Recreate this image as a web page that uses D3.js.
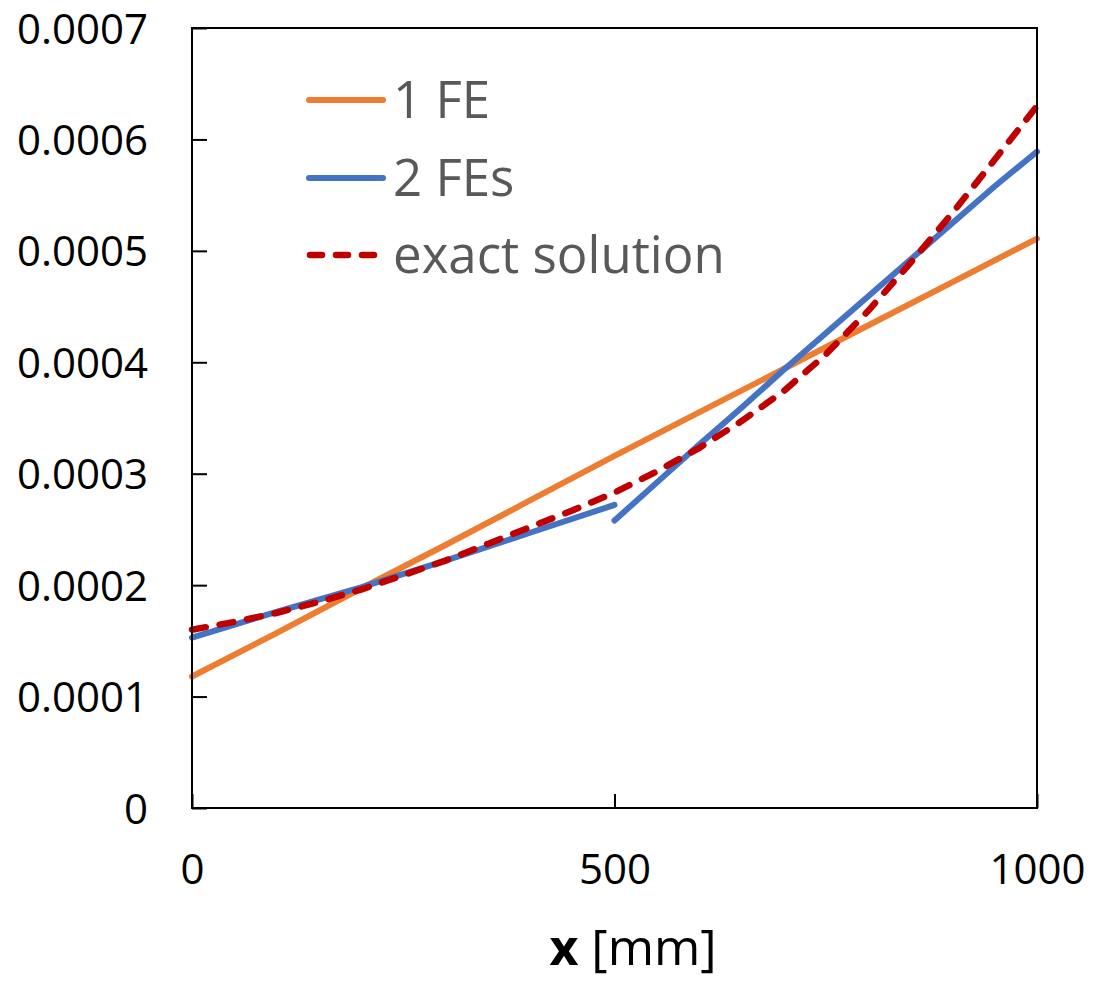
<!DOCTYPE html>
<head>
  <meta charset="utf-8">
  <script src="https://d3js.org/d3.v7.min.js"></script>
  <style>
    body { margin:0; background:#fff; }
    text { font-family: "Open Sans", sans-serif; }
    .tick-label { font-size: 42px; fill: #000; }
    .legend-label { font-size: 51px; fill: #595959; }
  </style>
</head>

<body>
  <script>
    var width = 1093, height = 982;
    var margin = { top: 28, right: 56, bottom: 174, left: 192 };
    var w = width - margin.left - margin.right;
    var h = height - margin.top - margin.bottom;

    // x positions [mm]
    var xOneFE = [0, 100, 200, 300, 400, 500, 600, 700, 800, 900, 1000];
    var oneFE = [0.000118, 0.000157, 0.000197, 0.000236, 0.000276, 0.000316, 0.000355, 0.000394, 0.000433, 0.000472, 0.000511];

    var xTwoFEsA = [0, 100, 200, 300, 400, 500];
    var twoFEsA = [0.000153, 0.000176, 0.000198, 0.000222, 0.000247, 0.000272];
    var xTwoFEsB = [500, 550, 600, 650, 700, 750, 800, 850, 900, 950, 1000];
    var twoFEsB = [0.000258, 0.000292, 0.000326, 0.000359, 0.000393, 0.000426, 0.000459, 0.000492, 0.000525, 0.000558, 0.000589];

    var xExact = [0, 50, 100, 150, 200, 250, 300, 350, 400, 450, 500, 550, 600, 650, 700, 750, 800, 850, 900, 950, 1000];
    var exact = [0.000160, 0.000167, 0.000175, 0.000185, 0.000196, 0.000209, 0.000222, 0.000237, 0.000252, 0.000267, 0.000283,
                 0.000302, 0.000323, 0.000347, 0.000374, 0.000407, 0.000446, 0.000489, 0.000534, 0.000582, 0.000630];

    var xTicks = [0, 500, 1000];
    var yTicks = [0, 0.0001, 0.0002, 0.0003, 0.0004, 0.0005, 0.0006, 0.0007];

    var legendNames = ["1 FE", "2 FEs", "exact solution"];
    var colors = ["#ED7D31", "#4472C4", "#C00000"];

    var svg = d3.select("body").append("svg")
      .attr("width", width)
      .attr("height", height);
    var g = svg.append("g")
      .attr("transform", "translate(" + margin.left + "," + margin.top + ")");

    var xScale = d3.scaleLinear().domain([0, 1000]).range([0, w]);
    var yScale = d3.scaleLinear().domain([0, 0.0007]).range([h, 0]);

    function pts(xs, ys) {
      return xs.map(function(x, i) { return [x, ys[i]]; });
    }
    var line = d3.line()
      .x(function(d) { return xScale(d[0]); })
      .y(function(d) { return yScale(d[1]); });

    // lines
    g.append("path").attr("d", line(pts(xOneFE, oneFE)))
      .attr("fill", "none").attr("stroke", colors[0]).attr("stroke-width", 6).attr("stroke-linecap", "round");
    g.append("path").attr("d", line(pts(xTwoFEsA, twoFEsA)))
      .attr("fill", "none").attr("stroke", colors[1]).attr("stroke-width", 6).attr("stroke-linecap", "round");
    g.append("path").attr("d", line(pts(xTwoFEsB, twoFEsB)))
      .attr("fill", "none").attr("stroke", colors[1]).attr("stroke-width", 6).attr("stroke-linecap", "round");
    g.append("path").attr("d", line(pts(xExact, exact)))
      .attr("fill", "none").attr("stroke", colors[2]).attr("stroke-width", 6.5)
      .attr("stroke-linecap", "round").attr("stroke-dasharray", "14,14");

    // frame
    g.append("rect").attr("x", 0).attr("y", 0).attr("width", w).attr("height", h)
      .attr("fill", "none").attr("stroke", "#000").attr("stroke-width", 2);

    // y axis
    var yAxis = g.append("g").call(d3.axisLeft(yScale).tickValues(yTicks).tickSize(-15)
      .tickPadding(44).tickFormat(function(d) { return d === 0 ? "0" : d3.format(".4f")(d); }));
    yAxis.select(".domain").remove();
    yAxis.selectAll("line").attr("stroke", "#000").attr("stroke-width", 2);
    yAxis.selectAll("text").attr("class", "tick-label").attr("font-family", null).attr("font-size", null)
      .attr("fill", "#000").attr("dy", "0.36em");

    // x axis
    var xAxis = g.append("g").attr("transform", "translate(0," + h + ")")
      .call(d3.axisBottom(xScale).tickValues(xTicks).tickSize(-14).tickPadding(46).tickFormat(d3.format("d")));
    xAxis.select(".domain").remove();
    xAxis.selectAll("line").attr("stroke", "#000").attr("stroke-width", 2);
    xAxis.selectAll("text").attr("class", "tick-label").attr("font-family", null).attr("font-size", null)
      .attr("fill", "#000");

    // x axis title
    var title = svg.append("text")
      .attr("x", 633)
      .attr("y", 965)
      .attr("text-anchor", "middle")
      .style("font-size", "50px");
    title.append("tspan").attr("font-weight", "bold").text("x");
    title.append("tspan").text(" [mm]");

    // legend
    var legend = svg.append("g");
    var legendY = [100, 178, 255];
    legendNames.forEach(function(name, i) {
      var ln = legend.append("line")
        .attr("x1", 309).attr("x2", 383)
        .attr("y1", legendY[i]).attr("y2", legendY[i])
        .attr("stroke", colors[i]).attr("stroke-width", 6).attr("stroke-linecap", "round");
      if (i === 2) ln.attr("stroke-width", 6.5).attr("stroke-dasharray", "12,14").attr("x1", 310);
      legend.append("text").attr("class", "legend-label")
        .attr("x", 393).attr("y", legendY[i] + 18)
        .text(name);
    });
  </script>
</body>
